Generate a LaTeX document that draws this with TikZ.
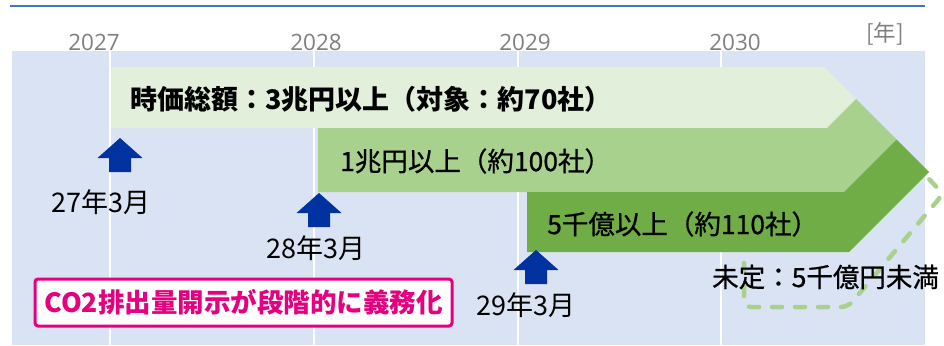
\documentclass[tikz,border=0pt]{standalone}
\usepackage{fontspec}
\setmainfont{Noto Sans CJK JP}
\newfontfamily\midfont{Noto Sans CJK JP}[FakeBold=0.8]
\newfontfamily\yearfont{Open Sans}
\usepackage{xcolor}
\definecolor{bgblue}{HTML}{DAE3F3}
\definecolor{barlight}{HTML}{E2EFDA}
\definecolor{barmid}{HTML}{A9D18E}
\definecolor{bardark}{HTML}{70AD47}
\definecolor{arrowblue}{HTML}{0033A0}
\definecolor{duepink}{HTML}{E4007F}
\definecolor{yeargray}{HTML}{7F7F7F}
\definecolor{rulerblue}{HTML}{4472C4}

\begin{document}
\begin{tikzpicture}[x=1pt,y=-1pt,inner sep=0pt,
    year/.style={text=yeargray,font=\yearfont\fontsize{22.5}{22.5}\selectfont},
    bar label/.style={anchor=west,font=\midfont\fontsize{26.5}{26.5}\selectfont},
    date/.style={font=\fontsize{27}{27}\selectfont},
    due box/.style={draw=duepink,line width=3pt,rounded corners=3pt,fill=white,text=duepink,
        minimum width=417pt,minimum height=47pt,font=\fontsize{26.5}{26.5}\selectfont\bfseries}]
    \useasboundingbox (0,0) rectangle (944,345);

    % frame and grid
    \draw[rulerblue,line width=2pt] (10,6) -- (925,6);
    \fill[bgblue] (12,51) rectangle (925,345);
    \foreach \x in {110,314,518,721}
        \draw[white,line width=2pt] (\x,51) -- (\x,345);

    \node[year] (y27) at (94,42) {2027};
    \node[year] (y28) at (316,42) {2028};
    \node[year] (y29) at (525,42) {2029};
    \node[year] (y30) at (735,42) {2030};
    \node[year,font=\fontsize{22.5}{22.5}\selectfont] (unit) at (885,34) {[年]};

    % undecided band
    \draw[barmid,line width=4.5pt,line cap=round,dash pattern=on 10pt off 13pt,rounded corners=7pt]
        (744,240) -- (744,307) -- (848,307) -- (943,194) -- (915,164);

    % bands
    \fill[barlight] (111,67) -- (824,67) -- (856,99) -- (827,128) -- (111,128) -- cycle;
    \fill[barmid] (318,128) -- (827,128) -- (856,99) -- (896.5,139.5) -- (844,192) -- (318,192) -- cycle;
    \fill[bardark] (527,192) -- (844,192) -- (896.5,139.5) -- (929,172) -- (849,252) -- (527,252) -- cycle;

    \node[bar label,font=\fontsize{27}{27}\selectfont\bfseries] (b1) at (130,99) {時価総額：3兆円以上（対象：約70社）};
    \node[bar label] (b2) at (340,161) {1兆円以上（約100社）};
    \node[bar label] (b3) at (547,224) {5千億以上（約110社）};
    \node[bar label] (b4) at (712,277) {未定：5千億円未満};

    % start arrows
    \foreach \ax/\ay in {120/138,319/193,536/250}
        \fill[arrowblue] (\ax,\ay) -- ++(22.5,20) -- ++(-11.5,0) -- ++(0,14) -- ++(-22,0) -- ++(0,-14) -- ++(-11.5,0) -- cycle;

    \node[date] (d27) at (101,202) {27年3月};
    \node[date] (d28) at (316,248) {28年3月};
    \node[date] (d29) at (526,305) {29年3月};

    \node[due box] (due) at (243.5,302.5) {CO2排出量開示が段階的に義務化};
\end{tikzpicture}
\end{document}
